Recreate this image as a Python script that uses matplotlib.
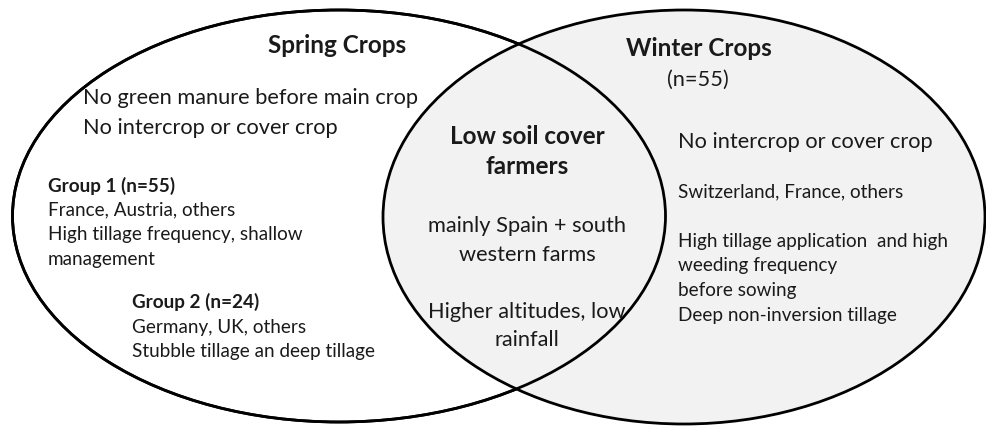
import matplotlib
matplotlib.use("Agg")
import matplotlib.pyplot as plt
from matplotlib.patches import Ellipse

# ---- content ----
set_titles = ["Spring Crops", "Winter Crops\n(n=55)"]
overlap_title = ["Low soil cover", "farmers"]
spring_lines = ["No green manure before main crop", "No intercrop or cover crop"]
group1_title = "Group 1 (n=55)"
group1_lines = ["France, Austria, others", "High tillage frequency, shallow", "management"]
group2_title = "Group 2 (n=24)"
group2_lines = ["Germany, UK, others", "Stubble tillage an deep tillage"]
overlap_lines = ["mainly Spain + south", "western farms", "", "Higher altitudes, low", "rainfall"]
winter_lines = ["No intercrop or cover crop"]
winter_countries = ["Switzerland, France, others"]
winter_practices = ["High tillage application  and high", "weeding frequency",
                    "before sowing", "Deep non-inversion tillage"]

FONT = "Lato"
BIG_B, BIG, SMALL = 17.5, 15.7, 13.6
W, H = 987, 428
fig = plt.figure(figsize=(W / 100, H / 100), dpi=100)
ax = fig.add_axes([0, 0, 1, 1])
ax.set_xlim(0, W)
ax.set_ylim(H, 0)
ax.axis("off")

# ellipses
left = Ellipse((339, 216), 653, 412, facecolor="white", edgecolor="black", lw=2, zorder=1)
right = Ellipse((684, 217), 602, 414, facecolor="#f2f2f2", edgecolor="black", lw=2, zorder=2)
left_edge = Ellipse((339, 216), 653, 412, facecolor="none", edgecolor="black", lw=2, zorder=3)
ax.add_patch(left)
ax.add_patch(right)
ax.add_patch(left_edge)

txt = dict(family=FONT, color="#1a1a1a", zorder=5)

# Spring crops
ax.text(337, 45, set_titles[0], ha="center", va="center", fontsize=BIG_B, fontweight="bold", **txt)
for i, s in enumerate(spring_lines):
    ax.text(83, 98 + i * 30, s, ha="left", va="center", fontsize=BIG, **txt)
ax.text(48, 186, group1_title, ha="left", va="center", fontsize=SMALL, fontweight="bold", **txt)
for i, s in enumerate(group1_lines):
    ax.text(48, 210 + i * 24.5, s, ha="left", va="center", fontsize=SMALL, **txt)
ax.text(132, 302, group2_title, ha="left", va="center", fontsize=SMALL, fontweight="bold", **txt)
for i, s in enumerate(group2_lines):
    ax.text(132, 327 + i * 25, s, ha="left", va="center", fontsize=SMALL, **txt)

# Winter crops
ax.text(699, 48, set_titles[1].split("\n")[0], ha="center", va="center", fontsize=BIG_B, fontweight="bold", **txt)
ax.text(698, 80, set_titles[1].split("\n")[1], ha="center", va="center", fontsize=BIG, **txt)
for i, s in enumerate(winter_lines):
    ax.text(678, 142, s, ha="left", va="center", fontsize=BIG, **txt)
for s in winter_countries:
    ax.text(678, 192, s, ha="left", va="center", fontsize=SMALL, **txt)
for i, s in enumerate(winter_practices):
    ax.text(678, 241 + i * 24.7, s, ha="left", va="center", fontsize=SMALL, **txt)

# overlap
for i, s in enumerate(overlap_title):
    ax.text(527, 136 + i * 31, s, ha="center", va="center", fontsize=BIG_B, fontweight="bold", **txt)
y0 = [226, 255, 0, 312, 340]
for s, y in zip(overlap_lines, y0):
    if s:
        ax.text(527, y, s, ha="center", va="center", fontsize=BIG, **txt)

fig.savefig("out.png", dpi=100)
